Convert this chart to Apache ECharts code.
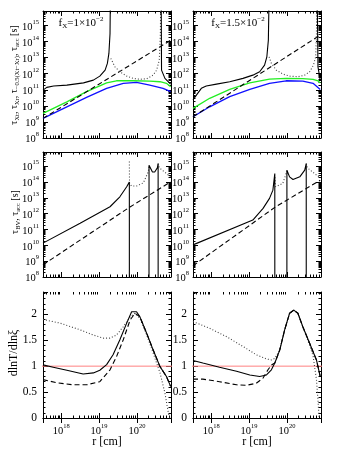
<!DOCTYPE html>
<html>
<head>
<meta charset="UTF-8">
<title>timescales vs r</title>
<script src="https://cdn.jsdelivr.net/npm/echarts@6/dist/echarts.min.js"></script>
<style>
  html, body { margin: 0; background: #fff; }
  #chart { width: 354px; height: 451px; }
</style>
</head>
<body>
<div id="chart"></div>
<script>
// all points as [log10 r(cm), log10 tau(s)] (bottom row: [log10 r, dlnT/dlnxi])

// ---- f_X = 1e-2 (left column) ----
const topL_solidA = [[17.52,10.98],[17.62,11.15],[17.80,11.23],[18.15,11.29],[18.59,11.43],[18.85,11.60],[19.02,11.85],[19.16,12.22],[19.22,12.64],[19.26,13.26],[19.29,14.5],[19.30,17]];
const topL_solidB = [[20.64,17],[20.65,12.22],[20.74,11.71],[20.89,11.35]];
const topL_dot = [[19.31,12.95],[19.42,12.43],[19.55,12.12],[19.73,11.85],[19.90,11.71],[20.08,11.65],[20.26,11.69],[20.43,11.91],[20.52,12.22],[20.59,12.84],[20.62,14.5],[20.63,17]];
const topL_dash = [[17.52,9.22],[19.20,11.64],[20.89,14.08]];
const topL_green = [[17.52,9.53],[18.15,10.25],[18.67,10.88],[19.20,11.43],[19.46,11.56],[19.90,11.56],[20.34,11.54],[20.61,11.50],[20.78,11.40],[20.89,11.19]];
const topL_blue = [[17.52,9.22],[18.15,9.94],[18.67,10.53],[19.20,11.09],[19.64,11.40],[19.99,11.46],[20.34,11.29],[20.69,11.09],[20.89,10.88]];

const midL_solid = [[17.52,10.14],[18.50,11.40],[19.29,12.44],[19.55,13.07],[19.73,13.70],[19.80,14.01],[19.801,5],[20.319,5],[20.32,15.06],[20.41,14.64],[20.47,14.64],[20.54,14.90],[20.56,15.17],[20.561,5]];
const midL_dot = [[19.80,15.3],[19.805,13.9],[19.86,13.75],[19.99,13.75],[20.17,13.95],[20.30,14.64],[20.32,15.06],[20.33,'-'],[20.56,15.17],[20.59,14.90],[20.89,14.33]];
const midL_dash = [[17.52,8.77],[19.80,12.40],[20.89,14.01]];

const botL_solid = [[17.52,1.025],[17.79,0.98],[18.15,0.92],[18.58,0.85],[18.85,0.87],[19.02,0.92],[19.20,1.03],[19.37,1.22],[19.55,1.51],[19.73,1.83],[19.86,2.05],[19.99,2.05],[20.08,1.95],[20.26,1.63],[20.43,1.31],[20.61,0.99],[20.78,0.80],[20.89,0.61]];
const botL_dash = [[17.52,0.74],[17.88,0.68],[18.32,0.64],[18.67,0.64],[19.02,0.70],[19.29,0.93],[19.46,1.18],[19.64,1.51],[19.82,1.89],[19.95,2.02],[20.08,1.95],[20.26,1.63],[20.43,1.31],[20.61,0.99],[20.78,0.80],[20.89,0.61]];
const botL_dot = [[17.52,1.90],[17.97,1.83],[18.50,1.70],[18.85,1.60],[19.11,1.54],[19.29,1.54],[19.46,1.60],[19.64,1.76],[19.82,1.95],[19.95,2.02],[20.08,1.92],[20.26,1.60],[20.43,1.25],[20.61,0.87],[20.74,0.48],[20.83,0.10],[20.87,0]];

// ---- f_X = 1.5e-2 (right column) ----
const topR_solidA = [[17.52,10.36],[17.61,10.67],[17.74,11.09],[17.87,11.23],[18.14,11.35],[18.49,11.50],[18.84,11.71],[19.10,11.91],[19.28,12.12],[19.41,12.53],[19.47,13.05],[19.51,14.09],[19.53,17]];
const topR_solidB = [[20.80,17],[20.82,12.43],[20.88,11.60]];
const topR_dot = [[19.53,13.05],[19.59,12.64],[19.72,12.22],[19.89,11.98],[20.07,11.85],[20.29,11.81],[20.47,11.91],[20.60,12.12],[20.70,12.53],[20.76,13.05],[20.78,14.5],[20.79,17]];
const topR_dash = [[17.52,9.32],[20.88,14.40]];
const topR_green = [[17.52,9.84],[17.96,10.47],[18.49,11.02],[19.02,11.43],[19.54,11.66],[19.98,11.71],[20.42,11.69],[20.69,11.65],[20.82,11.56],[20.88,11.43]];
const topR_blue = [[17.52,9.32],[17.96,9.94],[18.49,10.57],[19.02,11.02],[19.54,11.40],[19.98,11.56],[20.42,11.54],[20.69,11.40],[20.88,11.02]];

const midR_solid = [[17.52,10.03],[19.10,11.60],[19.37,12.34],[19.54,12.97],[19.63,13.49],[19.68,14.54],[19.681,5],[19.999,5],[20.00,14.75],[20.07,14.33],[20.16,14.16],[20.34,14.33],[20.47,14.75],[20.51,15.17],[20.511,5]];
const midR_dot = [[19.685,14.3],[19.70,13.70],[19.89,13.91],[19.98,14.54],[20.00,14.75],[20.01,'-'],[20.51,15.17],[20.54,14.90],[20.88,14.25]];
const midR_dash = [[17.52,8.71],[19.68,12.40],[20.88,14.12]];

const botR_solid = [[17.52,1.11],[17.78,1.06],[18.22,0.98],[18.67,0.90],[19.02,0.83],[19.28,0.80],[19.46,0.83],[19.59,0.93],[19.68,1.06],[19.81,1.31],[19.94,1.70],[20.07,2.02],[20.18,2.08],[20.29,2.02],[20.42,1.76],[20.60,1.44],[20.78,1.12],[20.88,0.80]];
const botR_dash = [[17.52,0.75],[17.78,0.75],[18.22,0.70],[18.67,0.64],[18.93,0.63],[19.19,0.67],[19.37,0.77],[19.50,0.93],[19.59,1.02],[19.68,1.06],[19.81,1.31],[19.94,1.70],[20.07,2.02],[20.18,2.08],[20.29,2.02],[20.42,1.76],[20.60,1.44],[20.78,1.12],[20.88,0.80]];
const botR_dot = [[17.52,1.86],[17.96,1.73],[18.40,1.57],[18.84,1.38],[19.19,1.22],[19.46,1.14],[19.59,1.12],[19.68,1.15],[19.81,1.31],[19.94,1.70],[20.07,2.02],[20.18,2.08],[20.29,2.02],[20.42,1.76],[20.60,1.40],[20.69,1.20],[20.78,0.74],[20.82,0.35],[20.85,0]];

const unityLine = [[17.4,1],[21,1]];
const panelTags = ['1×10', '1.5×10'];

// axis ranges (exponents)
const R_LO = 17.52, R_HI = 20.9;
const T_LO = 8, T_HI = 15.9;
const G_MAX = 2.43;

const FONT = 'Liberation Serif';
const BLACK = '#000';

const colLeft = [43, 193];
const rows = [{ top: 11, height: 127 }, { top: 152, height: 125 }, { top: 292, height: 126 }];

const toPts = (arr, logY) => arr.map(([x, y]) => [10 ** x, y === '-' ? '-' : (logY ? 10 ** y : y)]);

const powRich = {
  b: { fontSize: 10.5, fontFamily: FONT, color: BLACK, lineHeight: 14, verticalAlign: 'bottom' },
  p: { fontSize: 6.5, fontFamily: FONT, color: BLACK, lineHeight: 14, verticalAlign: 'top' }
};
function powLabel(v) {
  const e = Math.log10(v);
  if (Math.abs(e - Math.round(e)) > 1e-6) return '';
  return '{b|10}{p|' + Math.round(e) + '}';
}

const grid = [], xAxis = [], yAxis = [], series = [];
const lineStyleAxis = { color: BLACK, width: 1 };

function decadeMinors(lo, hi) {
  const out = [];
  for (let e = Math.floor(lo); e <= Math.ceil(hi); e++) {
    for (let k = 2; k <= 9; k++) {
      const v = k * 10 ** e;
      if (v > 10 ** lo && v < 10 ** hi) out.push(v);
    }
  }
  return out;
}
const rMinors = decadeMinors(R_LO, R_HI);
const tMinors = decadeMinors(T_LO, T_HI);

function seg(x1, y1, x2, y2) {
  return { type: 'line', shape: { x1, y1, x2, y2 }, style: { stroke: BLACK, lineWidth: 1 } };
}

function minorTicks(yLog) {
  return function (params, api) {
    const cs = params.coordSys;
    const x0 = cs.x, x1 = cs.x + cs.width, y0 = cs.y, y1 = cs.y + cs.height;
    const kids = [];
    rMinors.forEach(v => {
      const px = Math.round(api.coord([v, yLog ? 1e10 : 1])[0]) + 0.5;
      kids.push(seg(px, y1, px, y1 - 2.5), seg(px, y0, px, y0 + 2.5));
    });
    if (yLog) {
      tMinors.forEach(v => {
        const py = Math.round(api.coord([1e19, v])[1]) + 0.5;
        kids.push(seg(x0, py, x0 + 2.5, py), seg(x1, py, x1 - 2.5, py));
      });
    }
    return { type: 'group', children: kids };
  };
}

for (let r = 0; r < 3; r++) {
  for (let c = 0; c < 2; c++) {
    const i = r * 2 + c;
    grid.push({ left: colLeft[c], top: rows[r].top, width: 128, height: rows[r].height });
    const xBase = {
      type: 'log', logBase: 10, gridIndex: i, min: 10 ** R_LO, max: 10 ** R_HI,
      axisLine: { show: true, lineStyle: lineStyleAxis },
      axisTick: { show: true, inside: true, length: 5, lineStyle: lineStyleAxis },
      splitLine: { show: false }
    };
    xAxis.push(Object.assign({}, xBase, {
      position: 'bottom',
      axisLabel: { show: r === 2, formatter: powLabel, rich: powRich, margin: 5 }
    }));
    xAxis.push(Object.assign({}, xBase, { position: 'top', axisLabel: { show: false } }));

    let yBase;
    if (r < 2) {
      yBase = {
        type: 'log', logBase: 10, gridIndex: i, min: 10 ** T_LO, max: 10 ** T_HI,
        axisLine: { show: true, lineStyle: lineStyleAxis },
        axisTick: { show: true, inside: true, length: 5, lineStyle: lineStyleAxis },
        splitLine: { show: false }
      };
      yAxis.push(Object.assign({}, yBase, {
        position: 'left',
        axisLabel: { show: true, formatter: powLabel, rich: powRich, margin: 4 }
      }));
    } else {
      yBase = {
        type: 'value', gridIndex: i, min: 0, max: G_MAX, interval: 0.5,
        axisLine: { show: true, lineStyle: lineStyleAxis },
        axisTick: { show: true, inside: true, length: 5, lineStyle: lineStyleAxis },
        minorTick: { show: true, splitNumber: 5, length: 2.5, lineStyle: lineStyleAxis },
        splitLine: { show: false }
      };
      yAxis.push(Object.assign({}, yBase, {
        position: 'left',
        axisLabel: {
          show: true, margin: 6, fontSize: 11.5, fontFamily: FONT, color: BLACK,
          formatter: v => (Math.abs(v * 2 - Math.round(v * 2)) < 1e-6 ? String(v) : '')
        }
      }));
    }
    yAxis.push(Object.assign({}, yBase, { position: 'right', axisLabel: { show: false } }));

    series.push({
      type: 'custom', xAxisIndex: 2 * i, yAxisIndex: 2 * i, silent: true,
      data: [[1e19, r < 2 ? 1e10 : 1]], renderItem: minorTicks(r < 2)
    });
  }
}

function line(panel, data, logY, style) {
  series.push({
    type: 'line', xAxisIndex: 2 * panel, yAxisIndex: 2 * panel,
    data: toPts(data, logY), showSymbol: false, silent: true, connectNulls: false,
    lineStyle: Object.assign({ width: 1.1, color: BLACK }, style)
  });
}
const SOLID = { type: 'solid' };
const DASH = { type: [5, 3] };
const DOT = { type: [1, 2], color: '#444' };
const GREEN = { color: '#22ee22', width: 1.3 };
const BLUE = { color: '#1010ff', width: 1.3 };
const RED = { color: '#ff8080', width: 1 };

// top row
line(0, topL_green, true, GREEN);
line(0, topL_blue, true, BLUE);
line(0, topL_dash, true, DASH);
line(0, topL_dot, true, DOT);
line(0, topL_solidA, true, SOLID);
line(0, topL_solidB, true, SOLID);
line(1, topR_green, true, GREEN);
line(1, topR_blue, true, BLUE);
line(1, topR_dash, true, DASH);
line(1, topR_dot, true, DOT);
line(1, topR_solidA, true, SOLID);
line(1, topR_solidB, true, SOLID);
// middle row
line(2, midL_dash, true, DASH);
line(2, midL_dot, true, DOT);
line(2, midL_solid, true, SOLID);
line(3, midR_dash, true, DASH);
line(3, midR_dot, true, DOT);
line(3, midR_solid, true, SOLID);
// bottom row
line(4, unityLine, false, RED);
line(4, botL_dot, false, DOT);
line(4, botL_dash, false, DASH);
line(4, botL_solid, false, SOLID);
line(5, unityLine, false, RED);
line(5, botR_dot, false, DOT);
line(5, botR_dash, false, DASH);
line(5, botR_solid, false, SOLID);

const txtRich = {
  t: { fontSize: 10, fontFamily: FONT, color: BLACK, lineHeight: 14, verticalAlign: 'middle' },
  s: { fontSize: 6.5, fontFamily: FONT, color: BLACK, lineHeight: 14, verticalAlign: 'bottom' },
  g: { fontSize: 12, fontFamily: FONT, color: BLACK, lineHeight: 14, verticalAlign: 'middle' },
  a: { fontSize: 11, fontFamily: FONT, color: BLACK, lineHeight: 14, verticalAlign: 'middle' },
  as: { fontSize: 7, fontFamily: FONT, color: BLACK, lineHeight: 14, verticalAlign: 'bottom' },
  au: { fontSize: 7, fontFamily: FONT, color: BLACK, lineHeight: 14, verticalAlign: 'top' }
};
function txt(x, y, text, rot) {
  return {
    type: 'text', x, y, rotation: rot || 0, silent: true,
    style: { text, rich: txtRich, align: 'center', verticalAlign: 'middle' }
  };
}

const graphic = [
  txt(14, 75, '{t|τ}{s|Xt}{t|, τ}{s|Xr}{t|, τ}{s|−0.5(Xt−Xr)}{t|, τ}{s|acc}{t| [s]}', Math.PI / 2),
  txt(15, 212, '{t|τ}{s|BV}{t|, τ}{s|acc}{t| [s]}', Math.PI / 2),
  txt(14, 353, '{g|dlnT/dlnξ}', Math.PI / 2),
  txt(107, 442, '{g|r [cm]}'),
  txt(257, 442, '{g|r [cm]}'),
  txt(81, 23, '{a|f}{as|X}{a|=' + panelTags[0] + '}{au|−2}'),
  txt(238, 23, '{a|f}{as|X}{a|=' + panelTags[1] + '}{au|−2}')
];

const chart = echarts.init(document.getElementById('chart'));
chart.setOption({
  animation: false,
  backgroundColor: '#fff',
  textStyle: { fontFamily: FONT },
  grid, xAxis, yAxis, series, graphic
});
</script>
</body>
</html>
